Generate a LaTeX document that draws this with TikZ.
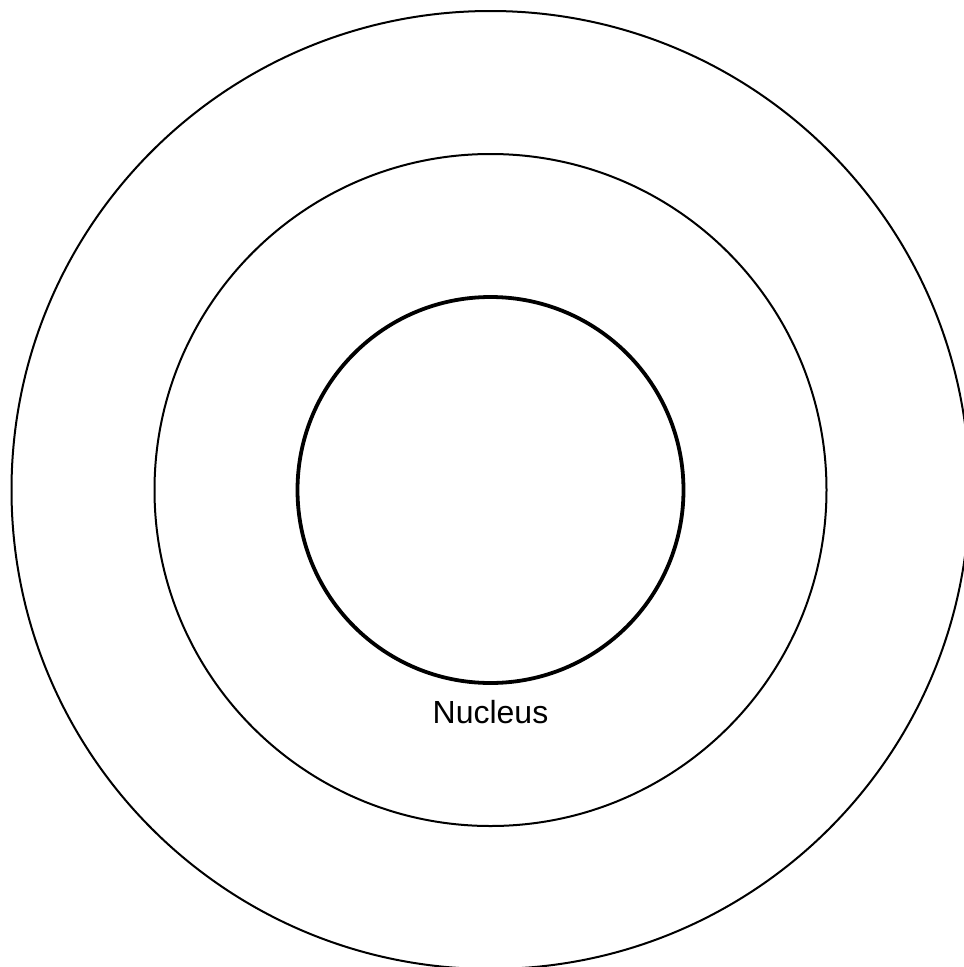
\documentclass[tikz,border=0pt]{standalone}
\usepackage{fontspec}
\setmainfont{Liberation Sans}
\begin{document}
\begin{tikzpicture}[x=1pt,y=-1pt,
  shell/.style={draw=black,line width=2pt},
  core/.style={draw=black,line width=3.8pt},
  lbl/.style={font=\fontsize{32}{38}\selectfont,inner sep=0pt}]
\useasboundingbox (0,0) rectangle (964,967);
\clip (0,0) rectangle (964,967);
\coordinate (c) at (490.5,490);
\draw[shell] (c) circle[radius=479];
\draw[shell] (c) circle[radius=336];
\draw[core] (c) circle[radius=193];
\node[lbl,anchor=base] (nuc) at (490.5,723) {Nucleus};
\end{tikzpicture}
\end{document}
